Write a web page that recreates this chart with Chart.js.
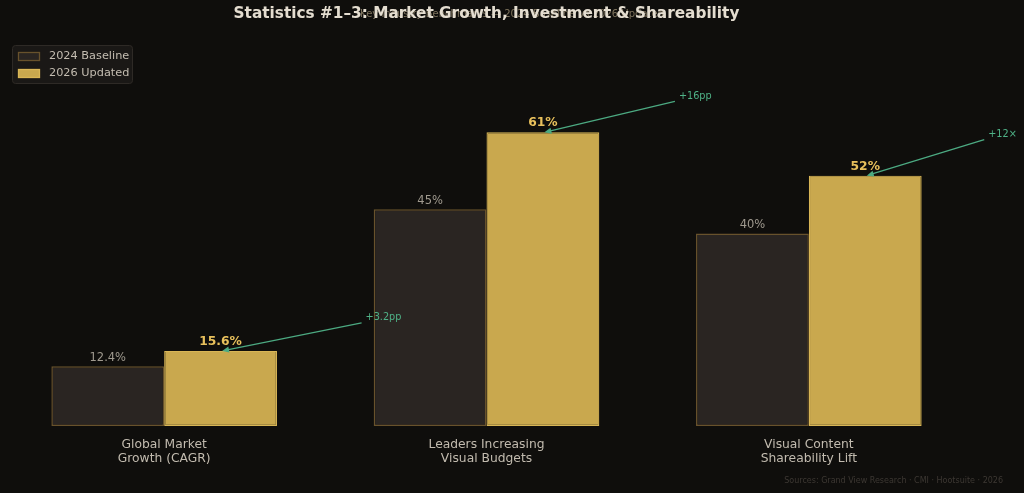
<!DOCTYPE html>
<html>
<head>
<meta charset="utf-8">
<script src="https://cdn.jsdelivr.net/npm/chart.js@4/dist/chart.umd.min.js"></script>
<style>
  html, body { margin: 0; padding: 0; background: #0f0e0c; }
  #wrap { width: 1024px; height: 493px; position: relative; }
</style>
</head>
<body>
<div id="wrap"><canvas id="c" width="1024" height="493"></canvas></div>
<script>
// ---- data ----
const categories = [["Global Market", "Growth (CAGR)"], ["Leaders Increasing", "Visual Budgets"], ["Visual Content", "Shareability Lift"]];
const seriesNames = ["2024 Baseline", "2026 Updated"];
const baseline2024 = [12.4, 45, 40];
const updated2026 = [15.6, 61, 52];
const baselineLabels = ["12.4%", "45%", "40%"];
const updatedLabels = ["15.6%", "61%", "52%"];
const deltaLabels = ["+3.2pp", "+16pp", "+12×"];
const titleText = "Statistics #1–3: Market Growth, Investment & Shareability";
const subtitleText = "Key Industry Benchmarks — 2024 Baseline vs 2026 Updated";
const footerText = "Sources: Grand View Research · CMI · Hootsuite · 2026";

// ---- style config ----
const FONT = "'DejaVu Sans', sans-serif";
const deltaOffsets = [[145, -33], [136, -36], [123, -41]]; // text offset from bar top (px)

const decorPlugin = {
  id: 'decor',
  afterDatasetsDraw(chart) {
    const ctx = chart.ctx;
    ctx.save();
    const m0 = chart.getDatasetMeta(0), m1 = chart.getDatasetMeta(1);
    ctx.textAlign = 'center';
    ctx.textBaseline = 'alphabetic';
    m0.data.forEach((el, i) => {
      ctx.font = "11.5px " + FONT;
      ctx.fillStyle = '#a09a8f';
      ctx.fillText(baselineLabels[i], el.x, el.y - 5);
    });
    m1.data.forEach((el, i) => {
      ctx.font = "bold 12.3px " + FONT;
      ctx.fillStyle = '#e8c05c';
      ctx.fillText(updatedLabels[i], el.x, el.y - 6);
    });
    m1.data.forEach((el, i) => {
      const tx = el.x + deltaOffsets[i][0];
      const ty = el.y + deltaOffsets[i][1];
      const hx = el.x + 1.5, hy = el.y;
      const sx = tx - 4, sy = ty + 5;
      ctx.strokeStyle = '#4caa82';
      ctx.fillStyle = '#4caa82';
      ctx.lineWidth = 1.3;
      const ang = Math.atan2(hy - sy, hx - sx);
      const ah = 7;
      ctx.beginPath();
      ctx.moveTo(sx, sy);
      ctx.lineTo(hx - Math.cos(ang) * 4, hy - Math.sin(ang) * 4);
      ctx.stroke();
      ctx.beginPath();
      ctx.moveTo(hx, hy);
      ctx.lineTo(hx - ah * Math.cos(ang) + 3 * Math.sin(ang), hy - ah * Math.sin(ang) - 3 * Math.cos(ang));
      ctx.lineTo(hx - ah * Math.cos(ang) - 3 * Math.sin(ang), hy - ah * Math.sin(ang) + 3 * Math.cos(ang));
      ctx.closePath();
      ctx.fill();
      ctx.font = "9.7px " + FONT;
      ctx.fillStyle = '#4fb287';
      ctx.textAlign = 'left';
      ctx.textBaseline = 'middle';
      ctx.fillText(deltaLabels[i], tx, ty);
      ctx.textAlign = 'center';
      ctx.textBaseline = 'alphabetic';
    });
    ctx.restore();
  },
  afterDraw(chart) {
    const ctx = chart.ctx;
    const ca = chart.chartArea;
    ctx.save();
    ctx.textAlign = 'center';
    ctx.textBaseline = 'middle';
    ctx.font = "10px " + FONT;
    ctx.fillStyle = '#7d725c';
    ctx.fillText(subtitleText, 512, 14);
    ctx.font = "bold 15.3px " + FONT;
    ctx.fillStyle = '#e4ddd0';
    ctx.fillText(titleText, (ca.left + ca.right) / 2, 14);
    ctx.beginPath();
    ctx.roundRect(12.5, 45.5, 120, 38, 3);
    ctx.fillStyle = 'rgba(28,26,23,0.9)';
    ctx.fill();
    ctx.strokeStyle = '#2e2a26';
    ctx.lineWidth = 1;
    ctx.stroke();
    const ds = chart.data.datasets;
    ds.forEach((d, i) => {
      const y = 52 + i * 17;
      ctx.fillStyle = d.backgroundColor;
      ctx.fillRect(18.5, y + 0.5, 21, 8);
      ctx.strokeStyle = d.borderColor;
      ctx.lineWidth = 1.3;
      ctx.strokeRect(18.5, y + 0.5, 21, 8);
      ctx.font = "11.3px " + FONT;
      ctx.fillStyle = '#c4bdb1';
      ctx.textAlign = 'left';
      ctx.textBaseline = 'middle';
      ctx.fillText(d.label, 49, y + 4.5);
    });
    ctx.font = "8px " + FONT;
    ctx.fillStyle = '#3d3833';
    ctx.textAlign = 'right';
    ctx.textBaseline = 'middle';
    ctx.fillText(footerText, 1003, 481);
    ctx.restore();
  }
};

new Chart(document.getElementById('c'), {
  type: 'bar',
  data: {
    labels: categories,
    datasets: [
      { label: seriesNames[0], data: baseline2024, backgroundColor: '#2a2522', borderColor: '#68522c', borderWidth: 1.5, borderSkipped: false, barPercentage: 1.0, categoryPercentage: 0.7 },
      { label: seriesNames[1], data: updated2026, backgroundColor: '#c9a84e', borderColor: '#d9b656', borderWidth: 1.2, borderSkipped: false, barPercentage: 1.0, categoryPercentage: 0.7 }
    ]
  },
  options: {
    responsive: false,
    devicePixelRatio: 1,
    animation: false,
    layout: { padding: { left: 3, right: 54, top: 89, bottom: 0 } },
    plugins: { legend: { display: false }, title: { display: false }, tooltip: { enabled: false } },
    scales: {
      x: {
        grid: { display: false },
        border: { display: false },
        ticks: { color: '#c2bbaf', font: { family: FONT, size: 12.3, lineHeight: 1.15 }, padding: 4, maxRotation: 0 },
        afterFit(scale) { scale.height = 67; }
      },
      y: { display: false, min: 0, max: 70 }
    }
  },
  plugins: [decorPlugin]
});
</script>
</body>
</html>
